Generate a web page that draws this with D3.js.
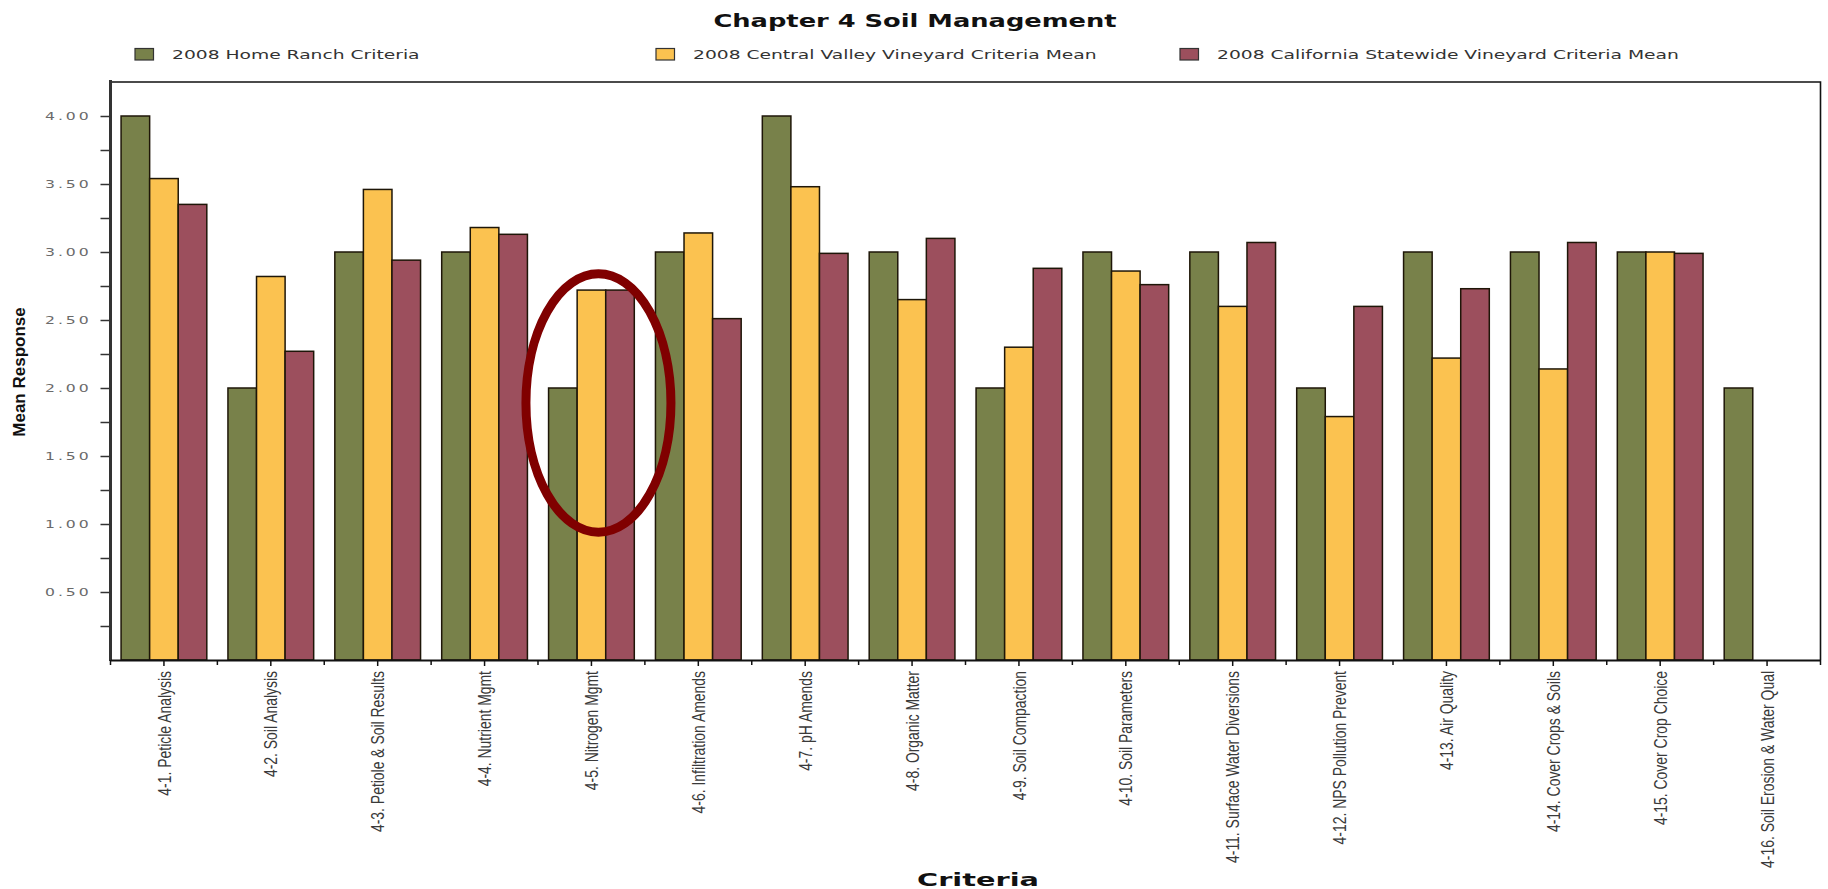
<!DOCTYPE html>
<html>
<head>
<meta charset="utf-8">
<script src="https://cdn.jsdelivr.net/npm/d3@7"></script>
<style>
  body { margin: 0; background: #ffffff; }
  svg { display: block; }
</style>
</head>
<body>
<svg id="chart" width="1828" height="889"></svg>
<script>
// Criteria of Chapter 4 (Soil Management)
const categories = [
  "4-1. Peticle Analysis",
  "4-2. Soil Analysis",
  "4-3. Petiole & Soil Results",
  "4-4. Nutrient Mgmt",
  "4-5. Nitrogen Mgmt",
  "4-6. Infiltration Amends",
  "4-7. pH Amends",
  "4-8. Organic Matter",
  "4-9. Soil Compaction",
  "4-10. Soil Parameters",
  "4-11. Surface Water Diversions",
  "4-12. NPS Pollution Prevent",
  "4-13. Air Quality",
  "4-14. Cover Crops & Soils",
  "4-15. Cover Crop Choice",
  "4-16. Soil Erosion & Water Qual"
];

const seriesNames = [
  "2008 Home Ranch Criteria",
  "2008 Central Valley Vineyard Criteria Mean",
  "2008 California Statewide Vineyard Criteria Mean"
];

// Mean responses per criterion (null = no response recorded)
const homeRanch     = [4.00, 2.00, 3.00, 3.00, 2.00, 3.00, 4.00, 3.00, 2.00, 3.00, 3.00, 2.00, 3.00, 3.00, 3.00, 2.00];
const centralValley = [3.54, 2.82, 3.46, 3.18, 2.72, 3.14, 3.48, 2.65, 2.30, 2.86, 2.60, 1.79, 2.22, 2.14, 3.00, null];
const statewide     = [3.35, 2.27, 2.94, 3.13, 2.72, 2.51, 2.99, 3.10, 2.88, 2.76, 3.07, 2.60, 2.73, 3.07, 2.99, null];

const yMajorTicks = [0.50, 1.00, 1.50, 2.00, 2.50, 3.00, 3.50, 4.00];
const yMinorTicks = [0.25, 0.75, 1.25, 1.75, 2.25, 2.75, 3.25, 3.75];
const highlighted = "4-5. Nitrogen Mgmt";

const colors = ["#78814a", "#fbc250", "#9c4f5d"];
const series = [homeRanch, centralValley, statewide];

const svg = d3.select("#chart");
const plot = { left: 110.5, right: 1820.5, top: 82, bottom: 660 };
const SX = 1.45;              // horizontal widening of the Verdana-style texts
const sans = "'DejaVu Sans', Verdana, sans-serif";
const arial = "'Liberation Sans', Arial, sans-serif";

const x0 = d3.scaleBand().domain(categories).range([plot.left, plot.right]).padding(0);
const x1 = d3.scaleBand().domain([0, 1, 2]).range([0, x0.bandwidth()]).paddingInner(0).paddingOuter(0.37);
const y = d3.scaleLinear().domain([0, 4.25]).range([plot.bottom, plot.top]);

// Title
svg.append("text")
  .attr("transform", `translate(915,27) scale(${1.43},1)`)
  .attr("text-anchor", "middle")
  .attr("font-family", sans).attr("font-weight", "bold").attr("font-size", 18)
  .attr("fill", "#111")
  .text("Chapter 4 Soil Management");

// Legend
const legendX = [135, 656, 1180];
const legend = svg.append("g").selectAll("g").data(seriesNames).join("g")
  .attr("transform", (d, i) => `translate(${legendX[i]},0)`);
legend.append("rect")
  .attr("x", 0).attr("y", 48.5).attr("width", 18.5).attr("height", 11.5)
  .attr("fill", (d, i) => colors[i]).attr("stroke", "#333").attr("stroke-width", 1.2);
legend.append("text")
  .attr("transform", `translate(37,58.5) scale(${SX},1)`)
  .attr("font-family", sans).attr("font-size", 12.9).attr("fill", "#333")
  .text(d => d);

// Bars
const groups = svg.append("g").selectAll("g").data(categories).join("g")
  .attr("transform", d => `translate(${x0(d)},0)`);
groups.selectAll("rect")
  .data((d, ci) => series.map((s, si) => ({ si, v: s[ci] })).filter(e => e.v != null))
  .join("rect")
  .attr("x", e => x1(e.si))
  .attr("width", x1.bandwidth())
  .attr("y", e => y(e.v))
  .attr("height", e => y(0) - y(e.v))
  .attr("fill", e => colors[e.si])
  .attr("stroke", "#1e1608").attr("stroke-width", 1.5);

// Frame (top and right)
svg.append("path")
  .attr("d", `M${plot.left},${plot.top}H${plot.right}V${plot.bottom}`)
  .attr("fill", "none").attr("stroke", "#111").attr("stroke-width", 1.6);

// Y axis with major (labelled) and minor ticks
const yAxis = svg.append("g").attr("transform", `translate(${plot.left},0)`)
  .call(d3.axisLeft(y).tickValues(yMajorTicks.concat(yMinorTicks)).tickSize(10)
    .tickFormat(v => yMajorTicks.includes(v) ? d3.format(".2f")(v) : ""));
yAxis.select(".domain").attr("stroke", "#333").attr("stroke-width", 3)
  .attr("d", `M0,${plot.top - 2}V${plot.bottom + 1}`);
yAxis.selectAll(".tick line").attr("stroke", "#333").attr("stroke-width", 1.5);
yAxis.selectAll(".tick text")
  .attr("x", 0).attr("dy", "0.35em")
  .attr("transform", `translate(-19,0) scale(${SX},1)`)
  .attr("font-family", sans).attr("font-size", 10.8).attr("letter-spacing", 2)
  .attr("fill", "#6a6a6a");

// X axis: ticks at group centres, rotated criterion labels
const xAxis = svg.append("g").attr("transform", `translate(0,${plot.bottom})`)
  .call(d3.axisBottom(x0).tickSize(6).tickSizeOuter(0));
xAxis.select(".domain").attr("stroke", "#111").attr("stroke-width", 2);
xAxis.selectAll(".tick line").attr("stroke", "#111").attr("stroke-width", 1.5);
xAxis.selectAll(".tick text")
  .attr("x", 0).attr("y", 0).attr("dy", "0.35em")
  .attr("transform", "translate(0,11) rotate(-90) scale(0.82,1.12)")
  .attr("text-anchor", "end")
  .attr("font-family", arial).attr("font-size", 17)
  .attr("fill", "#3a3a3a");

// Boundary ticks between criterion groups
svg.append("g").selectAll("line").data(categories.concat([null])).join("line")
  .attr("x1", (d, i) => plot.left + i * x0.bandwidth())
  .attr("x2", (d, i) => plot.left + i * x0.bandwidth())
  .attr("y1", plot.bottom).attr("y2", plot.bottom + 5)
  .attr("stroke", "#111").attr("stroke-width", 1.5);

// Axis titles
svg.append("text")
  .attr("transform", "translate(25,372) rotate(-90)")
  .attr("text-anchor", "middle")
  .attr("font-family", arial).attr("font-weight", "bold").attr("font-size", 17)
  .attr("fill", "#111")
  .text("Mean Response");

svg.append("text")
  .attr("transform", `translate(978,886) scale(1.6,1)`)
  .attr("text-anchor", "middle")
  .attr("font-family", sans).attr("font-weight", "bold").attr("font-size", 18)
  .attr("fill", "#111")
  .text("Criteria");

// Highlight ring around the nitrogen management criterion
const hx = x0(highlighted) + x0.bandwidth() / 2 + 7;
svg.append("ellipse")
  .attr("cx", hx)
  .attr("cy", (y(2.84) + y(0.94)) / 2)
  .attr("rx", 72.5)
  .attr("ry", (y(0.94) - y(2.84)) / 2)
  .attr("fill", "none").attr("stroke", "#800000").attr("stroke-width", 9);
</script>
</body>
</html>
